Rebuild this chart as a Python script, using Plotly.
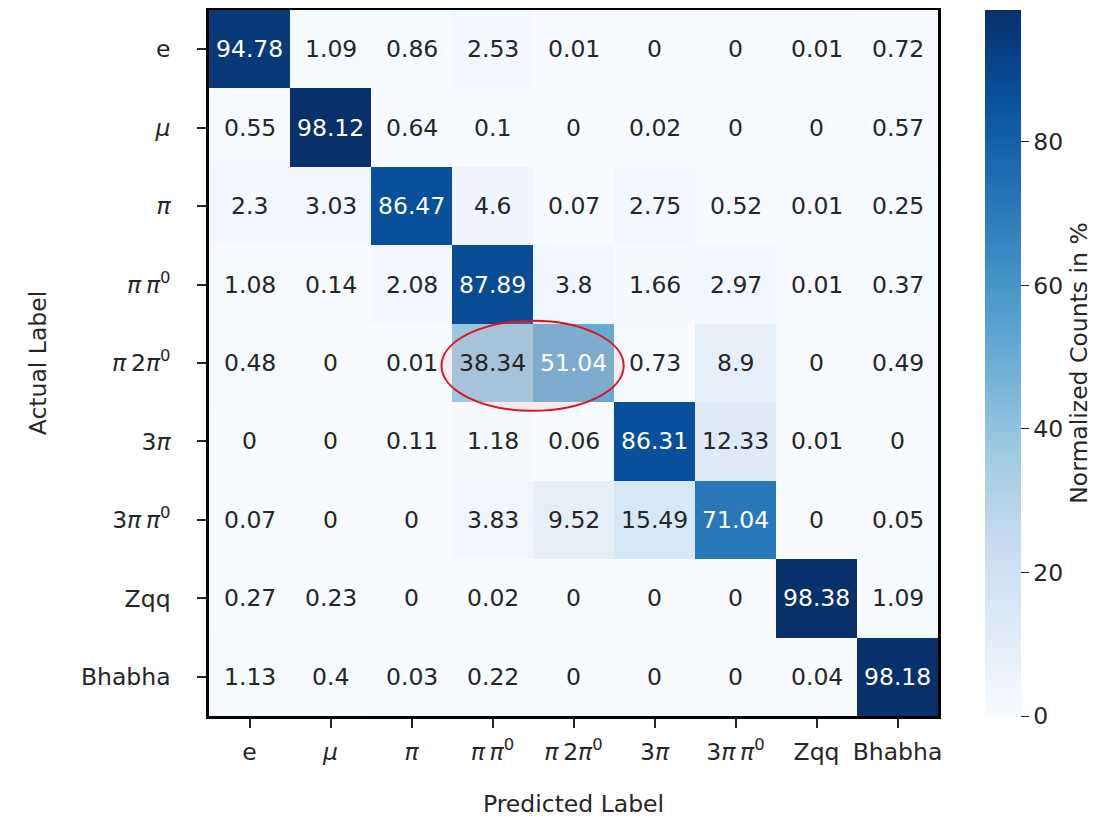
import plotly.graph_objects as go

labels_x = ["e", "<i>μ</i>", "<i>π</i>", "<i>π\u2009π</i><sup>0</sup>", "<i>π</i>\u20092<i>π</i><sup>0</sup>",
            "3<i>π</i>", "3<i>π\u2009π</i><sup>0</sup>", "Zqq", "Bhabha"]
labels_y = labels_x

row_e      = [94.78, 1.09, 0.86, 2.53, 0.01, 0, 0, 0.01, 0.72]
row_mu     = [0.55, 98.12, 0.64, 0.1, 0, 0.02, 0, 0, 0.57]
row_pi     = [2.3, 3.03, 86.47, 4.6, 0.07, 2.75, 0.52, 0.01, 0.25]
row_pipi0  = [1.08, 0.14, 2.08, 87.89, 3.8, 1.66, 2.97, 0.01, 0.37]
row_pi2pi0 = [0.48, 0, 0.01, 38.34, 51.04, 0.73, 8.9, 0, 0.49]
row_3pi    = [0, 0, 0.11, 1.18, 0.06, 86.31, 12.33, 0.01, 0]
row_3pipi0 = [0.07, 0, 0, 3.83, 9.52, 15.49, 71.04, 0, 0.05]
row_zqq    = [0.27, 0.23, 0, 0.02, 0, 0, 0, 98.38, 1.09]
row_bhabha = [1.13, 0.4, 0.03, 0.22, 0, 0, 0, 0.04, 98.18]

z = [row_e, row_mu, row_pi, row_pipi0, row_pi2pi0, row_3pi, row_3pipi0, row_zqq, row_bhabha]

blues = ["#f7fbff", "#deebf7", "#c6dbef", "#9ecae1", "#6baed6",
         "#4292c6", "#2171b5", "#08519c", "#08306b"]
colorscale = [[i / (len(blues) - 1), c] for i, c in enumerate(blues)]

FONT = "DejaVu Sans"
FS = 23.5
TXT = "#262626"
idx = list(range(len(labels_x)))

fig = go.Figure()
fig.add_trace(go.Heatmap(
    z=z, x=idx, y=idx, colorscale=colorscale, zmin=0, zmax=max(max(r) for r in z),
    xgap=0, ygap=0,
    colorbar=dict(
        title=dict(text="Normalized Counts in %", side="right", font=dict(family=FONT, size=FS, color=TXT)),
        x=1.0645, xanchor="left", xref="paper", xpad=0, y=0.5, yanchor="middle", len=1.0, lenmode="fraction",
        thickness=36, outlinewidth=0, tickvals=[0, 20, 40, 60, 80], ticks="outside", ticklen=8,
        tickcolor=TXT, tickfont=dict(family=FONT, size=FS, color=TXT), ypad=0,
    ),
    hoverinfo="skip",
))

thresh = 45
annotations = []
for i, row in enumerate(z):
    for j, v in enumerate(row):
        annotations.append(dict(
            x=j, y=i, xref="x", yref="y", text=f"{v:g}", showarrow=False,
            font=dict(family=FONT, size=FS, color="white" if v > thresh else TXT),
        ))

fig.add_shape(type="circle", xref="x", yref="y", x0=2.37, x1=4.62, y0=3.46, y1=4.61,
              line=dict(color="#e0141c", width=2), fillcolor="rgba(230,180,190,0.2)", layer="above")

fig.update_layout(
    width=1115, height=816,
    margin=dict(l=201, r=185, t=2, b=108, autoexpand=False),
    plot_bgcolor="white", paper_bgcolor="white",
    annotations=annotations,
    font=dict(family=FONT, size=FS, color=TXT),
)
fig.update_xaxes(
    tickvals=idx, ticktext=labels_x, ticks="outside", ticklen=9, tickcolor=TXT, tickwidth=1.5,
    showline=True, linecolor="black", linewidth=2.5, mirror=True, range=[-0.5, 8.5],
    showgrid=False, zeroline=False, automargin=False,
    title=dict(text="Predicted Label", font=dict(family=FONT, size=FS), standoff=31),
    tickfont=dict(family=FONT, size=FS), ticklabelstandoff=4,
)
fig.update_yaxes(
    tickvals=idx, ticktext=labels_y, ticks="outside", ticklen=9, tickcolor=TXT, tickwidth=1.5,
    showline=True, linecolor="black", linewidth=2.5, mirror=True, range=[8.5, -0.5],
    showgrid=False, zeroline=False, automargin=False,
    title=dict(text="Actual Label", font=dict(family=FONT, size=FS), standoff=28),
    tickfont=dict(family=FONT, size=FS), ticklabelstandoff=22,
)
fig.write_html("out.html")
